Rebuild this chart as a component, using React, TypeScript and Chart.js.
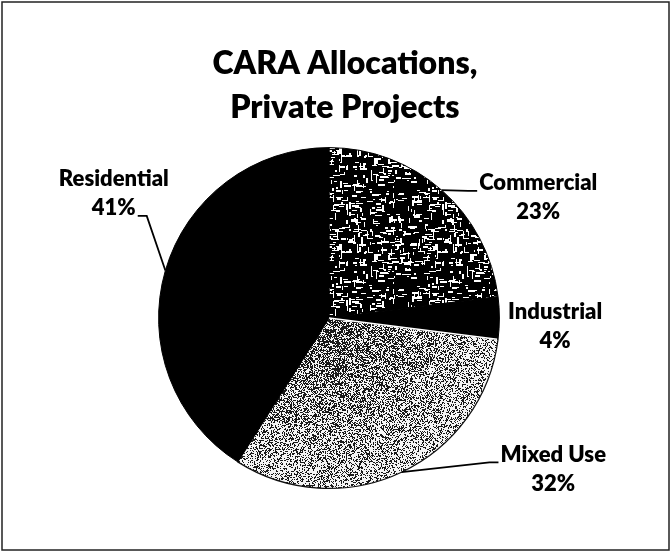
import React, { useEffect, useRef } from "react";
import { Chart, registerables } from "chart.js";

Chart.register(...registerables);

const categories = ["Commercial", "Industrial", "Mixed Use", "Residential"];
const shares = [23, 4, 32, 41];
const shareLabels = ["23%", "4%", "32%", "41%"];
const titleLines = ["CARA Allocations,", "Private Projects"];

// label placement relative to the pie centre, in radii (style only)
const labelOffsets: [number, number][] = [
  [1.228, -0.708],
  [1.327, 0.047],
  [1.316, 0.886],
  [-1.263, -0.731],
];
// leader line: which text line and which side it attaches to
const leaders: ({ line: number; side: "left" | "right" } | null)[] = [
  { line: 0, side: "left" },
  null,
  { line: 0, side: "left" },
  { line: 1, side: "right" },
];

const FONT = "Lato, 'Open Sans', sans-serif";

function rng(seed: number) {
  return () => {
    seed |= 0;
    seed = (seed + 0x6d2b79f5) | 0;
    let t = Math.imul(seed ^ (seed >>> 15), 1 | seed);
    t = (t + Math.imul(t ^ (t >>> 7), 61 | t)) ^ t;
    return ((t ^ (t >>> 14)) >>> 0) / 4294967296;
  };
}

function makeWeavePattern(ctx: CanvasRenderingContext2D) {
  const S = 96;
  const c = document.createElement("canvas");
  c.width = S;
  c.height = S;
  const g = c.getContext("2d")!;
  g.fillStyle = "#000";
  g.fillRect(0, 0, S, S);
  g.fillStyle = "#fff";
  const r = rng(7);
  for (let i = 0; i < 360; i++) {
    const x = Math.floor(r() * S);
    const y = Math.floor(r() * S);
    const horiz = r() < 0.62;
    const len = 2 + Math.floor(r() * 6);
    const w = r() < 0.7 ? 1 : 2;
    for (let dx = -S; dx <= S; dx += S)
      for (let dy = -S; dy <= S; dy += S) {
        if (horiz) g.fillRect(x + dx, y + dy, len, w);
        else g.fillRect(x + dx, y + dy, w, len);
      }
  }
  return ctx.createPattern(c, "repeat")!;
}

let noiseCache: { key: string; pat: CanvasPattern } | null = null;
function radialNoise(ctx: CanvasRenderingContext2D, W: number, H: number, cx: number, cy: number, R: number) {
  const key = [W, H, cx, cy, R].join(",");
  if (noiseCache && noiseCache.key === key) return noiseCache.pat;
  const c = document.createElement("canvas");
  c.width = W;
  c.height = H;
  const g = c.getContext("2d")!;
  const img = g.createImageData(W, H);
  const r = rng(13);
  for (let y = 0; y < H; y++) {
    for (let x = 0; x < W; x++) {
      const d = Math.min(1, Math.hypot(x - cx, y - cy) / R);
      const p = 0.66 - 0.36 * d;
      const v = r() < p ? 25 : 245;
      const i = (y * W + x) * 4;
      img.data[i] = v;
      img.data[i + 1] = v;
      img.data[i + 2] = v;
      img.data[i + 3] = 255;
    }
  }
  g.putImageData(img, 0, 0);
  const pat = ctx.createPattern(c, "no-repeat")!;
  noiseCache = { key, pat };
  return pat;
}

const labelPlugin = {
  id: "pieLabels",
  afterDatasetsDraw(chart: any) {
    const ctx: CanvasRenderingContext2D = chart.ctx;
    const meta = chart.getDatasetMeta(0);
    ctx.save();
    // thin white seam between Industrial and Mixed Use
    const m = meta.data[2].getProps(["x", "y", "startAngle", "outerRadius"], true);
    ctx.beginPath();
    ctx.moveTo(m.x, m.y);
    ctx.lineTo(m.x + Math.cos(m.startAngle) * (m.outerRadius - 1), m.y + Math.sin(m.startAngle) * (m.outerRadius - 1));
    ctx.strokeStyle = "#fff";
    ctx.lineWidth = 1.3;
    ctx.stroke();

    ctx.font = `800 22px ${FONT}`;
    ctx.fillStyle = "#000";
    ctx.textAlign = "center";
    ctx.textBaseline = "middle";
    const lineGap = 29;
    meta.data.forEach((arc: any, i: number) => {
      const { x, y, startAngle, endAngle, outerRadius } = arc.getProps(
        ["x", "y", "startAngle", "endAngle", "outerRadius"],
        true
      );
      const R = outerRadius;
      const cx = x + labelOffsets[i][0] * R;
      const cy = y + labelOffsets[i][1] * R;
      const lines = [categories[i], shareLabels[i]];
      const ys = [cy - lineGap / 2, cy + lineGap / 2];
      lines.forEach((t, k) => ctx.fillText(t, cx, ys[k]));
      const ld = leaders[i];
      if (ld) {
        const w = ctx.measureText(lines[ld.line]).width;
        const sign = ld.side === "left" ? -1 : 1;
        const ax = cx + sign * (w / 2 + 2);
        const ay = ys[ld.line] + 8;
        const bx = ax + sign * 9;
        const mid = (startAngle + endAngle) / 2;
        const ex = x + Math.cos(mid) * R;
        const ey = y + Math.sin(mid) * R;
        ctx.beginPath();
        ctx.moveTo(ax, ay);
        ctx.lineTo(bx, ay);
        ctx.lineTo(ex, ey);
        ctx.strokeStyle = "#000";
        ctx.lineWidth = 1.8;
        ctx.stroke();
      }
    });
    ctx.restore();
  },
  afterDraw(chart: any) {
    const ctx: CanvasRenderingContext2D = chart.ctx;
    ctx.save();
    // title
    ctx.font = `800 32px ${FONT}`;
    ctx.fillStyle = "#000";
    ctx.textAlign = "center";
    ctx.textBaseline = "middle";
    const tx = chart.width * 0.514;
    ctx.fillText(titleLines[0], tx, 64);
    ctx.fillText(titleLines[1], tx, 108);
    // frame
    ctx.strokeStyle = "#222";
    ctx.lineWidth = 1.5;
    ctx.strokeRect(2, 2, chart.width - 4, chart.height - 4);
    ctx.restore();
  },
};

export default function App() {
  const ref = useRef<HTMLCanvasElement>(null);
  useEffect(() => {
    const canvas = ref.current!;
    const ctx = canvas.getContext("2d")!;
    const weave = makeWeavePattern(ctx);
    const chart = new Chart(canvas, {
      type: "pie",
      data: {
        labels: categories,
        datasets: [
          {
            data: shares,
            backgroundColor: (c: any) => {
              if (c.dataIndex === 0) return weave;
              if (c.dataIndex === 2) {
                const a = c.chart.chartArea;
                if (!a) return "#888";
                const R = Math.min(a.right - a.left, a.bottom - a.top) / 2;
                return radialNoise(
                  ctx,
                  c.chart.width,
                  c.chart.height,
                  (a.left + a.right) / 2,
                  (a.top + a.bottom) / 2,
                  R
                );
              }
              return "#000";
            },
            borderColor: ["#000", "#000", "#111", "#000"],
            borderWidth: [1, 1, 1.2, 1],
            hoverOffset: 0,
          },
        ],
      },
      options: {
        responsive: false,
        animation: false,
        layout: { padding: { top: 147, bottom: 63, left: 158, right: 171 } },
        plugins: {
          legend: { display: false },
          tooltip: { enabled: false },
          title: { display: false },
        },
      },
      plugins: [labelPlugin],
    });
    return () => chart.destroy();
  }, []);
  return (
    <div style={{ position: "absolute", left: 0, top: 0, width: 671, height: 552, background: "#fff" }}>
      <canvas ref={ref} width={671} height={552} style={{ display: "block" }} />
    </div>
  );
}
